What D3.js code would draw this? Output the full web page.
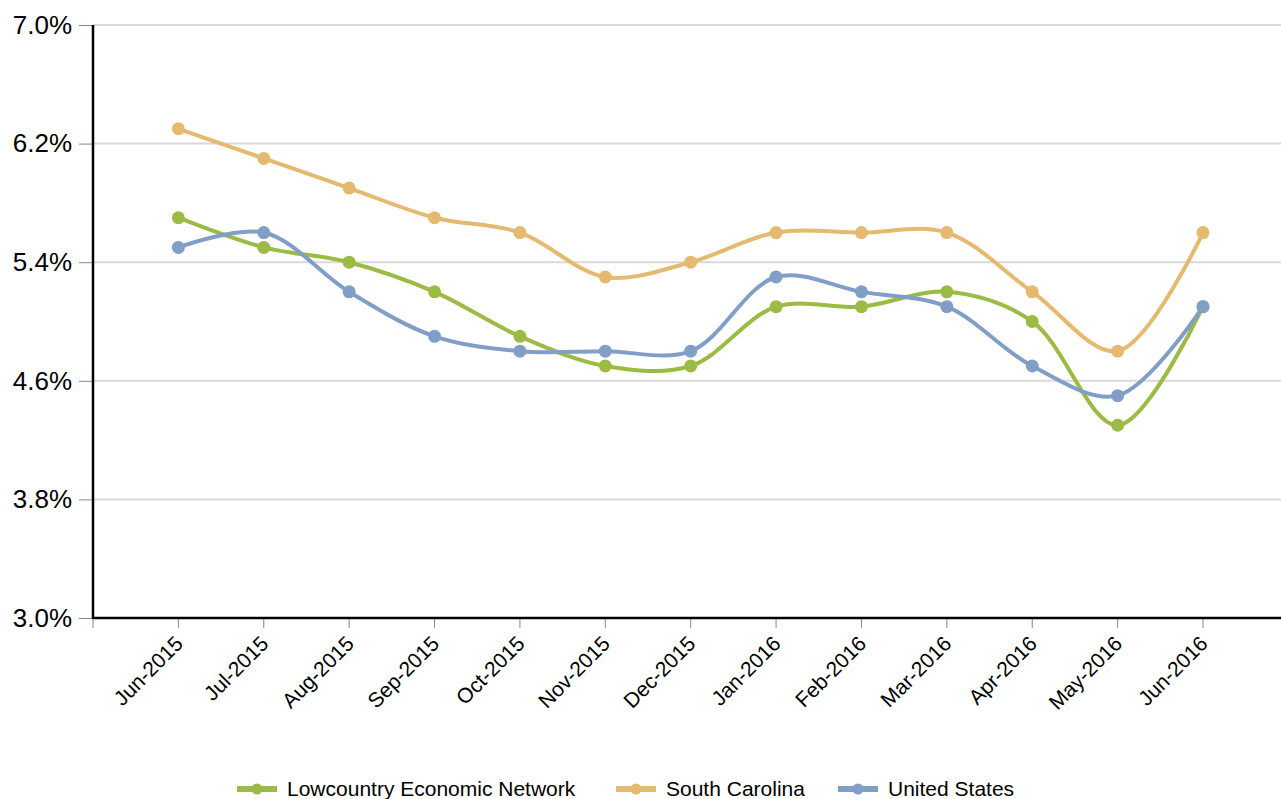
<!DOCTYPE html>
<html>
<head>
<meta charset="utf-8">
<script src="https://cdn.jsdelivr.net/npm/d3@7"></script>
<style>
html,body{margin:0;padding:0;background:#fff;overflow:hidden;}
svg{display:block;font-family:"Liberation Sans",Arial,sans-serif;}
</style>
</head>
<body>
<svg id="chart" width="1281" height="799"></svg>
<script>
const months = ["Jun-2015","Jul-2015","Aug-2015","Sep-2015","Oct-2015","Nov-2015","Dec-2015","Jan-2016","Feb-2016","Mar-2016","Apr-2016","May-2016","Jun-2016"];
const lowcountry = [5.7,5.5,5.4,5.2,4.9,4.7,4.7,5.1,5.1,5.2,5.0,4.3,5.1];
const southCarolina = [6.3,6.1,5.9,5.7,5.6,5.3,5.4,5.6,5.6,5.6,5.2,4.8,5.6];
const unitedStates = [5.5,5.6,5.2,4.9,4.8,4.8,4.8,5.3,5.2,5.1,4.7,4.5,5.1];
const yTicks = [3.0,3.8,4.6,5.4,6.2,7.0];
const seriesNames = ["Lowcountry Economic Network","South Carolina","United States"];
const seriesColors = ["#9bbb45","#e5b96f","#819fc6"];
const seriesData = [lowcountry, southCarolina, unitedStates];

const svg = d3.select("#chart");
const pLeft = 93, pRight = 1281, pTop = 25, pBottom = 618;

const x = d3.scaleLinear().domain([-1, months.length - 1]).range([pLeft, 1203]);
const y = d3.scaleLinear().domain([3.0, 7.0]).range([pBottom, pTop]);

// gridlines
svg.append("g").selectAll("line").data(yTicks.slice(1)).join("line")
  .attr("x1", pLeft).attr("x2", pRight)
  .attr("y1", d => y(d)).attr("y2", d => y(d))
  .attr("stroke", "#d9d9d9").attr("stroke-width", 2);

// y axis
const yAxis = d3.axisLeft(y).tickValues(yTicks).tickFormat(d => d.toFixed(1) + "%").tickSize(14).tickPadding(7);
const yg = svg.append("g").attr("transform", `translate(${pLeft},0)`).call(yAxis);
yg.select(".domain").remove();
yg.selectAll(".tick line").attr("stroke", "#888").attr("stroke-width", 1);
yg.selectAll(".tick text").attr("font-size", 26).attr("fill", "#000").attr("font-family", "Liberation Sans, Arial, sans-serif");

// x axis ticks
const xTickIdx = d3.range(-1, months.length);
const xg = svg.append("g").attr("transform", `translate(0,${pBottom})`);
xg.selectAll("line.tk").data(xTickIdx).join("line").attr("class","tk")
  .attr("x1", d => x(d)).attr("x2", d => x(d)).attr("y1", 0).attr("y2", 10)
  .attr("stroke", "#888").attr("stroke-width", 1);
xg.selectAll("text").data(months).join("text")
  .attr("transform", (d,i) => `translate(${x(i)+6},${27}) rotate(-45)`)
  .attr("text-anchor", "end")
  .attr("font-size", 21)
  .attr("fill", "#000")
  .text(d => d);

// axis lines
svg.append("line").attr("x1", pLeft).attr("x2", pLeft).attr("y1", pTop).attr("y2", pBottom+1)
  .attr("stroke", "#000").attr("stroke-width", 2.5);
svg.append("line").attr("x1", pLeft).attr("x2", pRight).attr("y1", pBottom).attr("y2", pBottom)
  .attr("stroke", "#000").attr("stroke-width", 2.5);

// lines
const line = d3.line().x((d,i) => x(i)).y(d => y(d)).curve(d3.curveCatmullRom.alpha(0.5));
[0,1,2].forEach(k => {
  const g = svg.append("g");
  g.append("path").datum(seriesData[k]).attr("d", line)
    .attr("fill", "none").attr("stroke", seriesColors[k]).attr("stroke-width", 4);
  g.selectAll("circle").data(seriesData[k]).join("circle")
    .attr("cx", (d,i) => x(i)).attr("cy", d => y(d)).attr("r", 6.5)
    .attr("fill", seriesColors[k]);
});

// legend
const legendX = [237, 616, 838];
const legY = 789;
const lg = svg.append("g");
seriesNames.forEach((n,k) => {
  lg.append("line").attr("x1", legendX[k]).attr("x2", legendX[k]+40)
    .attr("y1", legY).attr("y2", legY).attr("stroke", seriesColors[k]).attr("stroke-width", 6);
  lg.append("circle").attr("cx", legendX[k]+20).attr("cy", legY).attr("r", 5.5).attr("fill", seriesColors[k]);
  lg.append("text").attr("x", legendX[k]+50).attr("y", legY).attr("dy", "0.35em")
    .attr("font-size", 21).attr("fill", "#000").text(n);
});
</script>
</body>
</html>
